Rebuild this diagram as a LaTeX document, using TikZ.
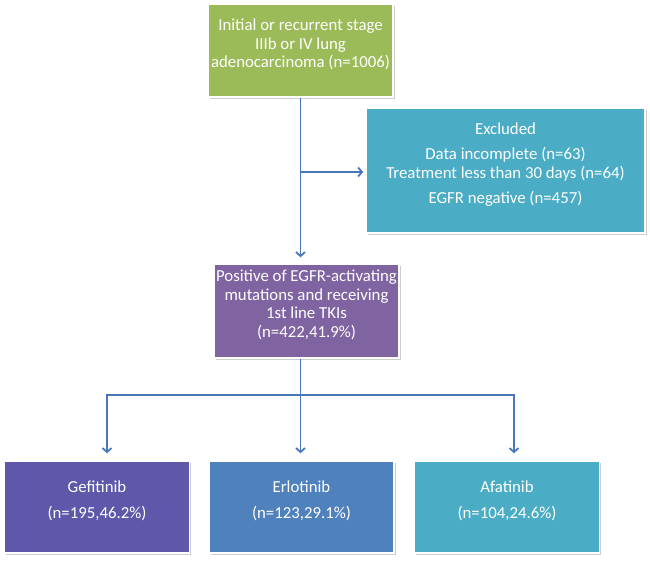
\documentclass[tikz,border=0pt]{standalone}
\usepackage{fontspec}
\setmainfont{Carlito}
\usetikzlibrary{arrows.meta,shadows}
\definecolor{initgreen}{RGB}{155,187,89}
\definecolor{exclteal}{RGB}{75,172,198}
\definecolor{pospurple}{RGB}{128,100,162}
\definecolor{gefviolet}{RGB}{95,88,170}
\definecolor{erlblue}{RGB}{79,129,189}
\definecolor{linkblue}{RGB}{70,120,186}

\begin{document}
\begin{tikzpicture}[x=1pt,y=-1pt]
\tikzset{box/.style = {draw=white,line width=1.5pt,inner sep=0pt,minimum width=185pt,minimum height=93pt,
  drop shadow={shadow xshift=1.5pt,shadow yshift=-1.5pt,fill=black!40,opacity=0.5}}}
\tikzset{txt/.style = {text=white,align=center,font=\fontsize{16.8}{18.5}\selectfont,yshift=6pt}}
\tikzset{edge/.style = {draw=linkblue,line width=1.8pt,-{Straight Barb[length=4pt,width=9pt]}}}
\useasboundingbox (0,0) rectangle (650,563);
% boxes
\node[box,fill=initgreen,label={[txt]center:{Initial or recurrent stage\\IIIb or IV lung\\adenocarcinoma (n=1006)}}] (init) at (300.5,50.5) {};
\node[box,fill=exclteal,minimum width=279pt,minimum height=125pt,
  label={[txt]center:{Excluded\\[6.5pt]Data incomplete (n=63)\\Treatment less than 30 days (n=64)\\[6.5pt]EGFR negative (n=457)}}] (excl) at (505.5,170.5) {};
\node[box,fill=pospurple,minimum height=94pt,label={[txt]center:{Positive of EGFR-activating\\mutations and receiving\\1st line TKIs\\(n=422,41.9\%)}}] (pos) at (306.5,311) {};
\node[box,fill=gefviolet,minimum height=92pt,label={[txt]center:{Gefitinib\\[7.5pt](n=195,46.2\%)}}] (gef) at (97,507) {};
\node[box,fill=erlblue,minimum height=92pt,label={[txt]center:{Erlotinib\\[7.5pt](n=123,29.1\%)}}] (erl) at (301.5,507) {};
\node[box,fill=exclteal,minimum height=92pt,label={[txt]center:{Afatinib\\[7.5pt](n=104,24.6\%)}}] (afa) at (507,507) {};
% edges
\coordinate (branch) at (300.5,172);
\coordinate (fork) at (300.5,395);
\draw[edge,shorten >=6pt] (init.south) -- (init.south |- pos.north);
\draw[edge,shorten >=2pt] (branch) -- (branch -| excl.west);
\draw[draw=linkblue,line width=1.8pt] (fork |- pos.south) -- (fork);
\draw[edge,shorten >=7pt] (fork) -| ([xshift=10pt]gef.north);
\draw[edge,shorten >=7pt] (fork) -- (fork |- erl.north);
\draw[edge,shorten >=7pt] (fork) -| ([xshift=7pt]afa.north);
\end{tikzpicture}
\end{document}
